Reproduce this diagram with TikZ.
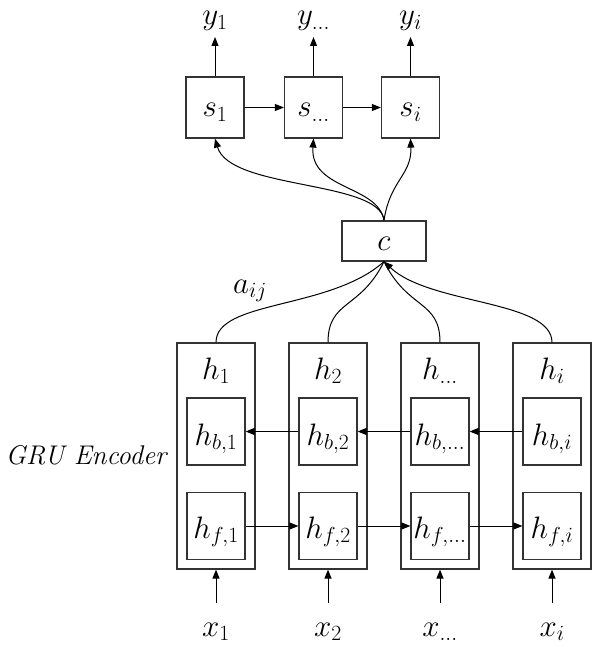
\RequirePackage{fix-cm}
\documentclass[tikz,border=0pt]{standalone}
\usetikzlibrary{arrows.meta}
\begin{document}
\begin{tikzpicture}[x=1pt,y=-1pt,
  every node/.style={font=\fontsize{31}{36}\selectfont},
  box/.style={draw=black!80,line width=1.2pt,inner sep=0pt,minimum width=58pt,minimum height=61pt},
  outerbox/.style={draw=black!80,line width=1.2pt,inner sep=0pt,minimum width=78pt,minimum height=226pt},
  innerbox/.style={draw=black!80,line width=1.2pt,inner sep=0pt,minimum width=58pt,minimum height=67pt},
  lbl/.style={anchor=base,inner sep=0pt},
  arr/.style={line width=1pt,-{Triangle[length=9pt,width=7pt]}},
  crv/.style={line width=1pt}]
\useasboundingbox (0,0) rectangle (591,647);

% decoder states
\node[box] (s1) at (215,107.5) {};
\node[box] (s2) at (313.5,107.5) {};
\node[box] (s3) at (410.5,107.5) {};
\node[lbl] at (215,117) {$s_1$};
\node[lbl] at (313.5,117) {$s_{\ldots}$};
\node[lbl] at (410.5,117) {$s_i$};

% outputs
\node[lbl] (y1) at (215,25) {$y_1$};
\node[lbl] (y2) at (313.5,25) {$y_{\ldots}$};
\node[lbl] (y3) at (410.5,25) {$y_i$};
\coordinate (ty1) at (215,37);
\coordinate (ty2) at (313.5,37);
\coordinate (ty3) at (410.5,37);
\draw[arr] (s1.north) -- (ty1);
\draw[arr] (s2.north) -- (ty2);
\draw[arr] (s3.north) -- (ty3);
\draw[arr] (s1.east) -- (s2.west);
\draw[arr] (s2.east) -- (s3.west);

% context
\node[box,minimum width=84pt,minimum height=40pt] (c) at (384,241) {};
\node[lbl] at (384,250) {$c$};

% encoder
\foreach \i/\x/\t/\b/\f in {1/216/1/{b,1}/{f,1},2/328/2/{b,2}/{f,2},3/440/{\ldots}/{b,\ldots}/{f,\ldots},4/552/i/{b,i}/{f,i}}{
  \node[outerbox] (o\i) at (\x,456) {};
  \node[lbl] (hl\i) at (\x,379) {$h_{\t}$};
  \node[innerbox] (b\i) at (\x,431.5) {};
  \node[lbl] at (\x,445) {$h_{\b}$};
  \node[innerbox] (f\i) at (\x,526) {};
  \node[lbl] at (\x,538) {$h_{\f}$};
  \node[lbl] (x\i) at (\x,636) {$x_{\t}$};
  \coordinate (xs\i) at (\x,603);
  \draw[arr] (xs\i) -- (o\i.south);
}
\draw[arr] (b2.west) -- (b1.east);
\draw[arr] (b3.west) -- (b2.east);
\draw[arr] (b4.west) -- (b3.east);
\draw[arr] (f1.east) -- (f2.west);
\draw[arr] (f2.east) -- (f3.west);
\draw[arr] (f3.east) -- (f4.west);

\node[lbl] (gru) at (86,464) {\fontsize{27}{30}\selectfont\itshape GRU Encoder};
\node[lbl] (aij) at (250,293) {$a_{ij}$};

% attention curves into c
\draw[crv] (o1.north) .. controls (216,300) and (330,310) .. (c.south);
\draw[crv] (o2.north) .. controls (328,300) and (360,310) .. (c.south);
\draw[crv] (o3.north) .. controls (440,300) and (408,310) .. (c.south);
\draw[arr] (o4.north) .. controls (552,300) and (430,305) .. (c.south);

% context to decoder states
\draw[arr] (c.north) .. controls (380,180) and (230,190) .. (s1.south);
\draw[arr] (c.north) .. controls (378,185) and (310,190) .. (s2.south);
\draw[arr] (c.north) .. controls (390,180) and (412,175) .. (s3.south);
\end{tikzpicture}
\end{document}
